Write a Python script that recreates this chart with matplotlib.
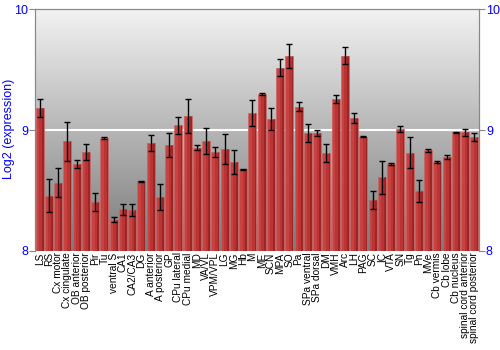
import matplotlib
matplotlib.use("Agg")
import matplotlib.pyplot as plt
import numpy as np

plt.rcParams['font.family'] = ['Liberation Sans', 'DejaVu Sans']

# regions, mean log2 expression and error
regions = ["LS", "RS", "Cx motor", "Cx cingulate", "OB anterior", "OB posterior",
           "Pir", "Tu", "ventral S", "CA1", "CA2/CA3", "DG", "A anterior",
           "A posterior", "GP", "CPu lateral", "CPu medial", "MD", "VA/VL",
           "VPM/VPL", "LG", "MG", "Hb", "M", "ME", "SCN", "MPA", "SO", "Pa",
           "SPa ventral", "SPa dorsal", "DM", "VMH", "Arc", "LH", "PAG", "SC",
           "IC", "VTA", "SN", "Tg", "Pn", "MVe", "Cb vermis", "Cb lobe",
           "Cb nucleus", "spinal cord anterior", "spinal cord posterior"]
values = [9.18, 8.455, 8.565, 8.906, 8.719, 8.82,
          8.405, 8.934, 8.259, 8.345, 8.339, 8.578, 8.893,
          8.446, 8.873, 9.039, 9.118, 8.854, 8.909,
          8.82, 8.84, 8.736, 8.675, 9.143, 9.295, 9.091, 9.515, 9.614, 9.193,
          8.978, 8.975, 8.807, 9.256, 9.614, 9.099, 8.945, 8.421,
          8.609, 8.719, 9.008, 8.812, 8.496, 8.832, 8.736, 8.777,
          8.981, 8.983, 8.942]
errors = [0.075, 0.136, 0.12, 0.16, 0.037, 0.066,
          0.077, 0.005, 0.02, 0.044, 0.05, 0.004, 0.069,
          0.111, 0.1, 0.07, 0.139, 0.02, 0.11,
          0.043, 0.124, 0.1, 0.003, 0.107, 0.008, 0.088, 0.07, 0.098, 0.039,
          0.073, 0.028, 0.074, 0.032, 0.07, 0.045, 0.004, 0.077,
          0.135, 0.011, 0.026, 0.13, 0.094, 0.011, 0.011, 0.014,
          0.005, 0.029, 0.033]

fig = plt.figure(figsize=(5, 3.5), dpi=100)
ax = fig.add_axes([0.07, 0.283, 0.888, 0.691])

x = np.arange(len(regions))
ax.set_xlim(-0.5, len(regions) - 0.5)
ax.set_ylim(8, 10)

# grey gradient background
grad = np.linspace(0, 1, 256).reshape(-1, 1)
cmap = matplotlib.colors.LinearSegmentedColormap.from_list("bg", ["#7a7a7a", "#f2f2f2"])
ax.imshow(grad, aspect='auto', cmap=cmap, origin='lower',
          extent=[-0.5, len(regions) - 0.5, 8, 10], zorder=0)
ax.axhline(9, color='white', lw=1.5, zorder=1)

# bars: lighter left side, darker right edge
heights = np.array(values) - 8
ax.bar(x, heights, bottom=8, width=0.86, color='#bb3434',
       edgecolor='#c96a6a', linewidth=0.5, zorder=2)
ax.bar(x - 0.2, heights, bottom=8, width=0.3, color='#d85555',
       alpha=0.45, linewidth=0, zorder=2)
ax.bar(x + 0.33, heights, bottom=8, width=0.18, color='#7a1414',
       alpha=0.45, linewidth=0, zorder=2)
ax.errorbar(x, values, yerr=errors, fmt='none', ecolor='black', elinewidth=1,
            capsize=2, capthick=1, zorder=3)

ax.set_xticks(x)
ax.set_xticklabels(regions, rotation=90, fontsize=7.3)
ax.tick_params(axis='x', length=0, pad=1)
ax.set_yticks([8, 9, 10])
ax.tick_params(axis='y', labelsize=9, labelcolor='blue', length=4, pad=1,
               color='#888888')
fig.text(0.018, 0.631, "Log2 (expression)", color='blue', fontsize=9,
         rotation=90, ha='center', va='center')

ax2 = ax.twinx()
ax2.set_ylim(8, 10)
ax2.set_yticks([8, 9, 10])
ax2.tick_params(axis='y', labelsize=9, labelcolor='blue', length=4, pad=1,
                color='#888888')

for a in (ax, ax2):
    for s in a.spines.values():
        s.set_color('#888888')
    a.spines['bottom'].set_visible(False)

fig.savefig("out.png", dpi=100)
